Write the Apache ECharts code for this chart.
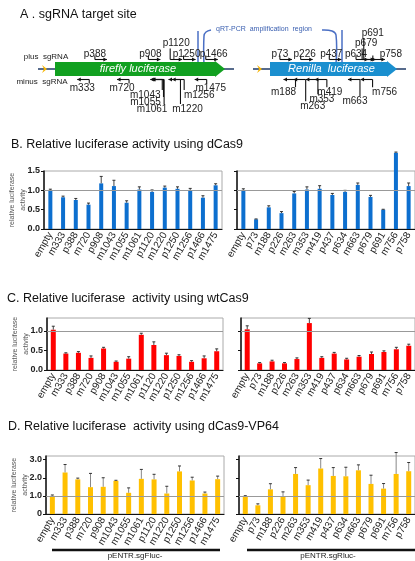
<!DOCTYPE html>
<html>
<head>
<meta charset="utf-8">
<script src="https://cdn.jsdelivr.net/npm/echarts@6/dist/echarts.min.js"></script>
<style>
html, body { margin: 0; padding: 0; background: #fff; }
#main { width: 415px; height: 561px; }
</style>
</head>
<body>
<div id="main"></div>
<script>
// A: genes and sgRNA target sites (p = plus strand, m = minus strand, number = bp)
const geneNames = ['firefly luciferase', 'Renilla  luciferase'];
const geneLengths = [1653, 936];
const fflucGuides = ['p388', 'p908', 'p1120', 'p1250', 'p1466', 'm333', 'm720', 'm1043', 'm1055', 'm1061', 'm1220', 'm1256', 'm1475'];
const rlucGuides = ['p73', 'p226', 'p437', 'p634', 'p679', 'p691', 'p758', 'm188', 'm263', 'm353', 'm419', 'm663', 'm756'];

// B-D: categories
const fflucCats = ['empty', 'm333', 'p388', 'm720', 'p908', 'm1043', 'm1055', 'm1061', 'p1120', 'm1220', 'p1250', 'm1256', 'p1466', 'm1475'];
const rlucCats = ['empty', 'p73', 'm188', 'p226', 'm263', 'm353', 'm419', 'p437', 'p634', 'm663', 'p679', 'p691', 'm756', 'p758'];

// B: dCas9
const dCas9Fluc = [1.00, 0.82, 0.75, 0.63, 1.18, 1.11, 0.68, 1.02, 0.96, 1.07, 1.04, 1.01, 0.81, 1.13];
const dCas9FlucErr = [0.03, 0.03, 0.04, 0.04, 0.18, 0.15, 0.05, 0.07, 0.05, 0.04, 0.05, 0.04, 0.05, 0.04];
const dCas9Rluc = [1.01, 0.25, 0.56, 0.41, 0.92, 1.02, 1.04, 0.88, 0.96, 1.14, 0.83, 0.50, 1.97, 1.11];
const dCas9RlucErr = [0.03, 0.01, 0.04, 0.04, 0.05, 0.07, 0.08, 0.04, 0.04, 0.05, 0.04, 0.01, 0.02, 0.08];
const dCas9Ticks = [0, 0.5, 1.0, 1.5];
const dCas9TickLabels = ['0.0', '0.5', '1.0', '1.5'];

// C: wtCas9
const wtCas9Fluc = [1.03, 0.42, 0.44, 0.31, 0.55, 0.21, 0.29, 0.90, 0.64, 0.38, 0.36, 0.21, 0.30, 0.48];
const wtCas9FlucErr = [0.09, 0.02, 0.03, 0.05, 0.03, 0.02, 0.05, 0.04, 0.08, 0.05, 0.03, 0.03, 0.06, 0.06];
const wtCas9Rluc = [1.04, 0.17, 0.22, 0.17, 0.28, 1.20, 0.31, 0.42, 0.27, 0.34, 0.41, 0.46, 0.53, 0.62];
const wtCas9RlucErr = [0.09, 0.02, 0.03, 0.02, 0.03, 0.12, 0.03, 0.03, 0.03, 0.03, 0.05, 0.03, 0.05, 0.04];
const wtCas9Ticks = [0, 0.5, 1.0];
const wtCas9TickLabels = ['0.0', '0.5', '1.0'];

// D: dCas9-VP64
const vp64Fluc = [1.00, 2.29, 1.91, 1.48, 1.50, 1.83, 1.17, 1.94, 1.91, 1.13, 2.35, 1.85, 1.13, 1.92];
const vp64FlucErr = [0.05, 0.44, 0.07, 0.76, 0.50, 0.03, 0.27, 0.52, 0.28, 0.40, 0.30, 0.18, 0.08, 0.17];
const vp64Rluc = [0.98, 0.48, 1.36, 0.94, 2.21, 1.59, 2.51, 2.10, 2.08, 2.41, 1.66, 1.40, 2.21, 2.36];
const vp64RlucErr = [0.03, 0.08, 0.31, 0.28, 0.35, 0.28, 0.55, 0.46, 0.50, 0.30, 0.48, 0.28, 1.18, 0.48];
const vp64Ticks = [0, 1, 2, 3];
const vp64TickLabels = ['0', '1.0', '2.0', '3.0'];

const FONT = 'Liberation Sans, Arial, sans-serif';

// label placement for the sgRNA labels: [row, dx]
const fflucLabelPos = {
  p388: [0, 0], p908: [0, 2], p1120: [1, 6], p1250: [0, 3], p1466: [0, 8],
  m333: [0, -7], m720: [0, -7], m1043: [1, -17], m1055: [2, -18], m1061: [3, -12],
  m1220: [3, 7], m1256: [1, 15], m1475: [0, 4]
};
const rlucLabelPos = {
  p73: [0, 0], p226: [0, 4], p437: [0, 2], p634: [0, 0], p679: [1, 4], p691: [2, 9], p758: [0, 18],
  m188: [0.6, -12], m263: [2.6, 7], m353: [1.6, 4], m419: [0.6, 3], m663: [1.9, -5], m756: [0.6, 12]
};

const geneColors = ['#11a020', '#1a8fcf'];

var chart = echarts.init(document.getElementById('main'));

function geneItem(color, name) {
  return function (params, api) {
    const cs = params.coordSys;
    const x0 = api.coord([api.value(0), 0])[0];
    const x1 = api.coord([api.value(1), 0])[0];
    const top = cs.y, h = cs.height, mid = top + h / 2, head = 10;
    return {
      type: 'group',
      children: [
        { type: 'line', shape: { x1: x0 - 17, y1: mid, x2: x1 + 9, y2: mid }, style: { stroke: '#1f3a66', lineWidth: 1.5 } },
        { type: 'polygon', shape: { points: [[x0 - 13, mid - 4], [x0 - 8, mid], [x0 - 13, mid + 4], [x0 - 11, mid]] }, style: { fill: '#f7b500' } },
        {
          type: 'polygon',
          shape: { points: [[x0, top], [x1 - head, top], [x1 - head, top - 1], [x1, mid], [x1 - head, top + h + 1], [x1 - head, top + h], [x0, top + h]] },
          style: { fill: color }
        },
        {
          type: 'text', x: (x0 + x1 - head) / 2 + 3, y: mid,
          style: { text: name, fill: '#fff', fontSize: 11, fontStyle: 'italic', fontFamily: FONT, align: 'center', verticalAlign: 'middle' }
        }
      ]
    };
  };
}

function guideItem(names, labelPos) {
  return function (params, api) {
    const cs = params.coordSys;
    const name = names[params.dataIndex];
    const x = api.coord([api.value(0), 0])[0];
    const strand = api.value(1);
    const pos = labelPos[name] || [0, 0];
    const len = 12;
    const st = { stroke: '#111', lineWidth: 1.1 };
    let ay, ly, vEnd, tip, arrow;
    if (strand > 0) {
      ay = cs.y - 2.5;
      ly = cs.y - 8 - 10.5 * pos[0];
      vEnd = Math.min(ay - 4, ly + 5);
      tip = x + len;
      arrow = [[tip, ay], [tip - 3.5, ay - 2], [tip - 3.5, ay + 2]];
    } else {
      ay = cs.y + cs.height + 3.5;
      ly = cs.y + cs.height + 12 + 7 * pos[0];
      vEnd = Math.max(ay + 4, ly - 5);
      tip = x - len;
      arrow = [[tip, ay], [tip + 3.5, ay - 2], [tip + 3.5, ay + 2]];
    }
    return {
      type: 'group',
      children: [
        { type: 'line', shape: { x1: x, y1: ay, x2: x, y2: vEnd }, style: st },
        { type: 'line', shape: { x1: x, y1: ay, x2: tip, y2: ay }, style: st },
        { type: 'polygon', shape: { points: arrow }, style: { fill: '#111' } },
        {
          type: 'text', x: x + pos[1], y: ly,
          style: { text: name, fill: '#222', fontSize: 10, fontFamily: FONT, align: 'center', verticalAlign: 'middle' }
        }
      ]
    };
  };
}

function errorItem(color) {
  return function (params, api) {
    const lo = api.coord([api.value(0), api.value(1)]);
    const hi = api.coord([api.value(0), api.value(1) + api.value(2)]);
    return {
      type: 'group',
      children: [
        { type: 'line', shape: { x1: lo[0], y1: lo[1], x2: hi[0], y2: hi[1] }, style: { stroke: color, lineWidth: 1 } },
        { type: 'line', shape: { x1: hi[0] - 1.5, y1: hi[1], x2: hi[0] + 1.5, y2: hi[1] }, style: { stroke: '#333', lineWidth: 1 } }
      ]
    };
  };
}

const panels = [
  { cats: fflucCats, vals: dCas9Fluc, err: dCas9FlucErr, ticks: dCas9Ticks, tickLabels: dCas9TickLabels, max: 1.5, color: '#0d6fcf', errColor: '#444', barWidth: 4, left: true,
    grid: { left: 44, top: 171, width: 178, height: 58 } },
  { cats: rlucCats, vals: dCas9Rluc, err: dCas9RlucErr, ticks: dCas9Ticks, tickLabels: dCas9TickLabels, max: 1.5, color: '#0d6fcf', errColor: '#444', barWidth: 4, left: false,
    grid: { left: 237, top: 171, width: 181, height: 58 } },
  { cats: fflucCats, vals: wtCas9Fluc, err: wtCas9FlucErr, ticks: wtCas9Ticks, tickLabels: wtCas9TickLabels, max: 1.33, color: '#ff0000', errColor: '#444', barWidth: 5, left: true,
    grid: { left: 47, top: 318, width: 176, height: 52 } },
  { cats: rlucCats, vals: wtCas9Rluc, err: wtCas9RlucErr, ticks: wtCas9Ticks, tickLabels: wtCas9TickLabels, max: 1.33, color: '#ff0000', errColor: '#444', barWidth: 5, left: false,
    grid: { left: 241, top: 318, width: 179, height: 52 } },
  { cats: fflucCats, vals: vp64Fluc, err: vp64FlucErr, ticks: vp64Ticks, tickLabels: vp64TickLabels, max: 3.2, color: '#ffc000', errColor: '#888', barWidth: 5, left: true,
    grid: { left: 46, top: 456, width: 178, height: 58 } },
  { cats: rlucCats, vals: vp64Rluc, err: vp64RlucErr, ticks: vp64Ticks, tickLabels: vp64TickLabels, max: 3.2, color: '#ffc000', errColor: '#888', barWidth: 5, left: false,
    grid: { left: 239, top: 456, width: 180, height: 58 } }
];

const grids = [
  { left: 55, top: 62, width: 170, height: 14 },
  { left: 270, top: 62, width: 127, height: 14 }
];
const xAxes = [
  { gridIndex: 0, type: 'value', min: 0, max: geneLengths[0], show: false },
  { gridIndex: 1, type: 'value', min: 0, max: geneLengths[1], show: false }
];
const yAxes = [
  { gridIndex: 0, type: 'value', min: 0, max: 1, show: false },
  { gridIndex: 1, type: 'value', min: 0, max: 1, show: false }
];
const series = [
  { type: 'custom', xAxisIndex: 0, yAxisIndex: 0, data: [[0, geneLengths[0]]], renderItem: geneItem(geneColors[0], geneNames[0]), silent: true },
  { type: 'custom', xAxisIndex: 1, yAxisIndex: 1, data: [[0, geneLengths[1]]], renderItem: geneItem(geneColors[1], geneNames[1]), silent: true },
  { type: 'custom', xAxisIndex: 0, yAxisIndex: 0, silent: true,
    data: fflucGuides.map(g => [parseInt(g.slice(1)), g[0] === 'p' ? 1 : -1]), renderItem: guideItem(fflucGuides, fflucLabelPos) },
  { type: 'custom', xAxisIndex: 1, yAxisIndex: 1, silent: true,
    data: rlucGuides.map(g => [parseInt(g.slice(1)), g[0] === 'p' ? 1 : -1]), renderItem: guideItem(rlucGuides, rlucLabelPos) }
];

panels.forEach((p, i) => {
  const g = i + 2;
  grids.push(Object.assign({ show: true, borderColor: '#aaa', borderWidth: 1 }, p.grid));
  xAxes.push({
    gridIndex: g, type: 'category', data: p.cats,
    axisLine: { lineStyle: { color: '#111', width: 1.2 } },
    axisTick: { show: false },
    axisLabel: { interval: 0, rotate: 60, fontSize: 10, color: '#222', margin: 4, fontFamily: FONT }
  });
  yAxes.push({
    gridIndex: g, type: 'value', min: 0, max: p.max,
    axisLine: { show: true, lineStyle: { color: '#111', width: 1.5 } },
    axisTick: { show: true, length: 3, customValues: p.ticks, lineStyle: { color: '#111' } },
    splitLine: { show: false },
    axisLabel: {
      show: p.left, customValues: p.ticks, fontSize: 9, fontWeight: 'bold', color: '#222', margin: 4, fontFamily: FONT,
      formatter: v => p.tickLabels[p.ticks.indexOf(v)]
    },
    name: p.left ? 'relative luciferase\nactivity' : '',
    nameLocation: 'middle', nameGap: 15, nameMoveOverlap: false,
    nameTextStyle: { fontSize: 7, color: '#555', lineHeight: 11, fontFamily: FONT }
  });
  series.push({
    type: 'bar', xAxisIndex: g, yAxisIndex: g, data: p.vals, barWidth: p.barWidth, clip: false, silent: true,
    itemStyle: { color: p.color },
    markLine: { silent: true, symbol: ['none', 'none'], label: { show: false }, lineStyle: { color: '#999', width: 1, type: 'solid' }, data: [{ yAxis: 1 }] }
  });
  series.push({
    type: 'custom', xAxisIndex: g, yAxisIndex: g, silent: true, z: 3,
    data: p.vals.map((v, k) => [k, v, p.err[k]]), renderItem: errorItem(p.errColor)
  });
});

function title(text, x, y) {
  return { type: 'text', x: x, y: y, style: { text: text, fontSize: 12.5, fill: '#111', fontFamily: FONT, verticalAlign: 'middle' } };
}
function small(text, x, y, size, color) {
  return { type: 'text', x: x, y: y, style: { text: text, fontSize: size, fill: color, fontFamily: FONT, align: 'center', verticalAlign: 'middle' } };
}
const pcrStyle = { stroke: '#4a6fc4', lineWidth: 1.5, fill: null };

const option = {
  backgroundColor: '#fff',
  animation: false,
  grid: grids,
  xAxis: xAxes,
  yAxis: yAxes,
  series: series,
  graphic: [
    title('A . sgRNA target site', 20, 15),
    title('B. Relative luciferase activity using dCas9', 11, 145),
    title('C. Relative luciferase  activity using wtCas9', 7, 299),
    title('D. Relative luciferase  activity using dCas9-VP64', 8, 427),
    small('plus  sgRNA', 46, 57, 8, '#222'),
    small('minus  sgRNA', 42, 82, 8, '#222'),
    small('qRT-PCR  amplification  region', 264, 29, 7, '#3a5fb0'),
    { type: 'polyline', shape: { points: [[198, 31], [198, 66]] }, style: pcrStyle },
    { type: 'polyline', shape: { points: [[204, 66], [204, 36], [206, 32], [211, 30]], smooth: 0.4 }, style: pcrStyle },
    { type: 'polyline', shape: { points: [[322, 30], [332, 31], [336, 35], [336, 64]], smooth: 0.4 }, style: pcrStyle },
    { type: 'polyline', shape: { points: [[342, 30], [342, 64]] }, style: pcrStyle },
    { type: 'line', shape: { x1: 52, y1: 550, x2: 220, y2: 550 }, style: { stroke: '#111', lineWidth: 2.5 } },
    { type: 'line', shape: { x1: 247, y1: 550, x2: 415, y2: 550 }, style: { stroke: '#111', lineWidth: 2.5 } },
    small('pENTR.sgFluc-', 135, 556, 8, '#222'),
    small('pENTR.sgRluc-', 328, 556, 8, '#222')
  ]
};

chart.setOption(option);
</script>
</body>
</html>
